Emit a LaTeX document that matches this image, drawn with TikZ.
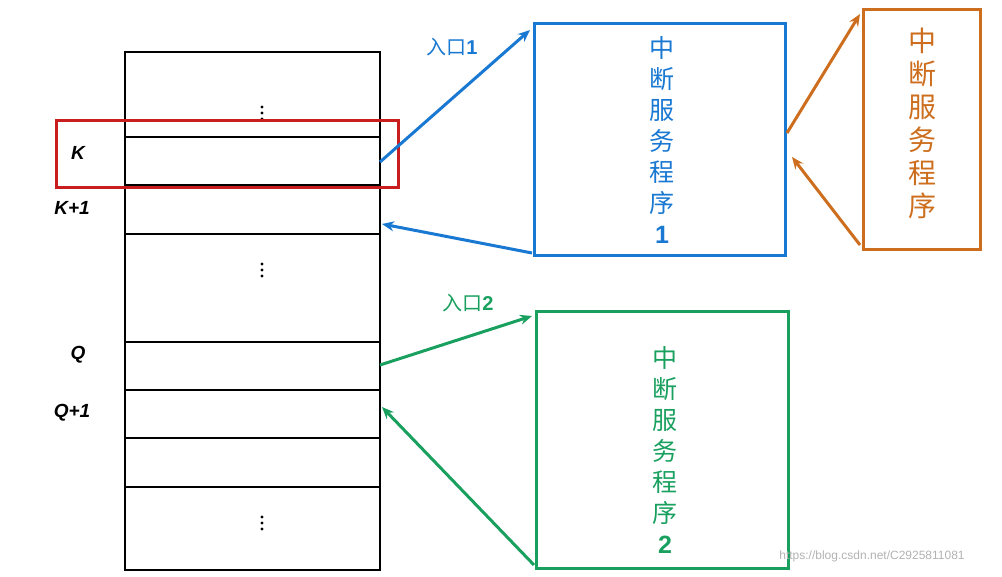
\documentclass[tikz,border=0pt]{standalone}
\usepackage{fontspec}
\usetikzlibrary{arrows.meta}
\setmainfont{Liberation Sans}
\newfontfamily\cjk{Noto Sans CJK SC}
\newfontfamily\lat{Liberation Sans}
\begin{document}
\begin{tikzpicture}[x=1pt,y=-1pt,
 cell/.style={draw=black,line width=2pt},
 lbl/.style={font=\lat\fontsize{19}{22}\selectfont\bfseries\itshape},
 vtxt/.style={align=center,font=\cjk\fontsize{25}{31}\selectfont},
 arr/.style={line width=3pt,-{Stealth[length=12pt,width=10pt]}}]
\useasboundingbox (0,0) rectangle (1002,577);
\definecolor{cblue}{RGB}{25,120,210}
\definecolor{corange}{RGB}{205,110,30}
\definecolor{cgreen}{RGB}{25,160,95}
\definecolor{cred}{RGB}{200,30,30}
% memory column
\draw[cell] (125,52) rectangle (380,570);
\foreach \y in {137,185,234,342,390,438,487} \draw[cell] (125,\y) -- (380,\y);
\foreach \y in {113,270,523} \node[inner sep=0pt,minimum size=16pt] (d\y) at (262,\y) {};
\foreach \y in {113,270,523} \foreach \dy in {-6,0,6} \fill (262,\y+\dy) circle (1.6pt);
\coordinate (kout) at (380,162);
\coordinate (k1in) at (382,224);
\coordinate (qout) at (380,365);
\coordinate (q1in) at (382,407);
\node[draw=cred,line width=3pt,minimum width=342pt,minimum height=67pt,inner sep=0pt] (red) at (227,154.5) {};
\node[lbl] (K) at (78,153) {K};
\node[lbl] (K1) at (72,208) {K+1};
\node[lbl] (Q) at (78,355) {Q};
\node[lbl] (Q1) at (72,413) {Q+1};
% boxes
\node[draw=cblue,line width=3pt,minimum width=251pt,minimum height=232pt,inner sep=0pt] (b1) at (659.5,140) {};
\node[vtxt,text=cblue] (t1) at (662,140) {中\\断\\服\\务\\程\\序\\{\lat\bfseries 1}};
\node[draw=corange,line width=3pt,minimum width=117pt,minimum height=240pt,inner sep=0pt] (b3) at (921.5,130) {};
\node[vtxt,text=corange,font=\cjk\fontsize{28}{33}\selectfont] (t3) at (922,123) {中\\断\\服\\务\\程\\序};
\node[draw=cgreen,line width=3pt,minimum width=252pt,minimum height=256pt,inner sep=0pt] (b2) at (662,440) {};
\node[vtxt,text=cgreen] (t2) at (665,450) {中\\断\\服\\务\\程\\序\\{\lat\bfseries 2}};
% arrows
\coordinate (b1tl) at (530,30);
\coordinate (b1bl) at (532,253);
\coordinate (b3tl) at (860,14);
\coordinate (b3bl) at (860,245);
\coordinate (b1r1) at (787,133);
\coordinate (b1r2) at (792,157);
\coordinate (b2tl) at (532,316);
\coordinate (b2bl) at (534,565);
\draw[arr,cblue] (kout) -- (b1tl);
\draw[arr,cblue] (b1bl) -- (k1in);
\draw[arr,corange] (b1r1) -- (b3tl);
\draw[arr,corange] (b3bl) -- (b1r2);
\draw[arr,cgreen] (qout) -- (b2tl);
\draw[arr,cgreen] (b2bl) -- (q1in);
\node[text=cblue,font=\cjk\fontsize{20}{23}\selectfont] (e1) at (452,47) {入口{\lat\bfseries 1}};
\node[text=cgreen,font=\cjk\fontsize{20}{23}\selectfont] (e2) at (468,303) {入口{\lat\bfseries 2}};
\node[text=gray!60,font=\lat\fontsize{12}{13}\selectfont] (wm) at (872,556) {https://blog.csdn.net/C2925811081};
\end{tikzpicture}
\end{document}
